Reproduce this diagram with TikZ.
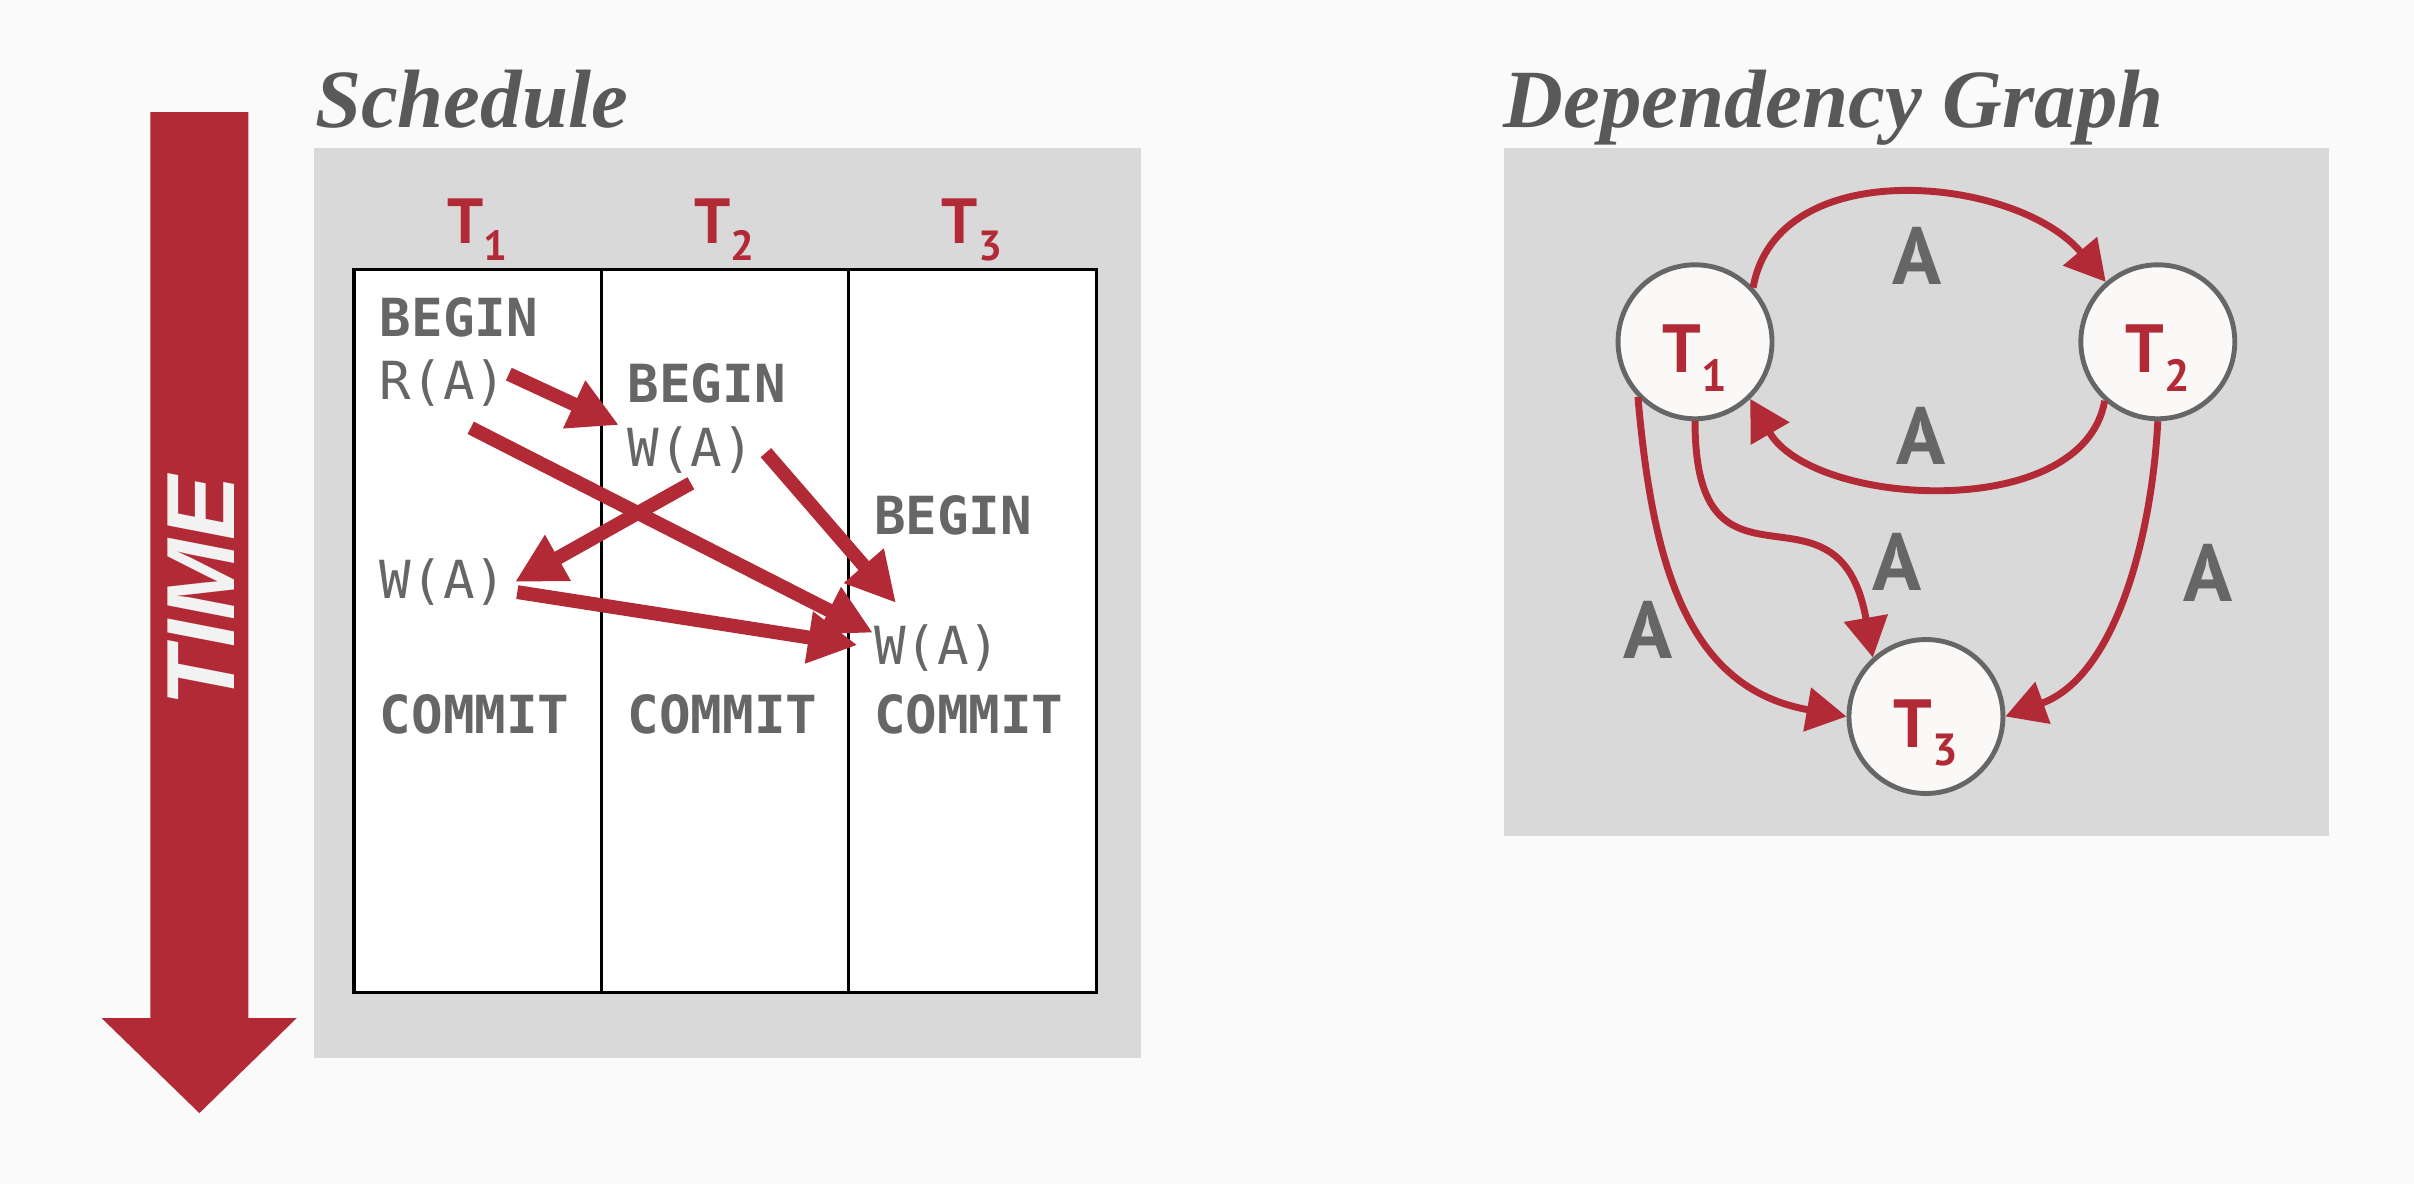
\documentclass[tikz,border=0pt]{standalone}
\usepackage{fontspec}
\usepackage{graphicx}
\setmainfont{Liberation Serif}
\newfontfamily\codefont{DejaVu Sans Mono}
\newfontfamily\labelfont{PT Sans}
\newfontfamily\timefont{Liberation Sans}
\usetikzlibrary{arrows.meta}

\definecolor{dbred}{RGB}{178,42,54}
\definecolor{dbgray}{RGB}{102,102,102}
\definecolor{titlegray}{RGB}{89,89,89}
\definecolor{boxgray}{RGB}{217,217,217}
\definecolor{nodefill}{RGB}{250,249,247}
\definecolor{pagebg}{RGB}{250,250,250}

\newcommand{\tsub}[1]{T\raisebox{-0.27em}{\scalebox{0.66}{#1}}}

\tikzset{
  op/.style={anchor=west, inner sep=0pt, text=dbgray, font=\codefont\fontsize{9.7}{10}\selectfont},
  kw/.style={op, font=\codefont\bfseries\fontsize{9.7}{10}\selectfont},
  title/.style={anchor=base west, inner sep=0pt, text=titlegray, font=\bfseries\itshape\fontsize{15.3}{16}\selectfont},
  txhead/.style={anchor=base, inner sep=0pt, text=dbred, font=\labelfont\bfseries\fontsize{11.8}{12}\selectfont},
  txnode/.style={circle, draw=dbgray, line width=0.9pt, fill=nodefill, minimum size=10mm, inner sep=0pt,
    text=dbred, font=\labelfont\bfseries\fontsize{12.6}{13}\selectfont, text height=11.4pt, text depth=0pt},
  elabel/.style={inner sep=0pt, text=dbgray, font=\labelfont\bfseries\fontsize{15}{15}\selectfont},
  sched/.style={draw=dbred, line width=0.9mm, -{Triangle[length=3.2mm,width=3.2mm]}},
  dep/.style={draw=dbred, line width=0.45mm, -{Triangle[length=2.6mm,width=2.8mm]}}
}

\begin{document}
\begin{tikzpicture}[x=0.1mm,y=0.1mm]
    \fill[pagebg] (0,0) rectangle (1568,769);
    \useasboundingbox (0,0) rectangle (1568,769);
    % time arrow
    \fill[dbred] (97.7,696.2) -- (161.3,696.2) -- (161.3,107.7) -- (192.7,107.7) -- (129.5,46) -- (66,107.7) -- (97.7,107.7) -- cycle;
    \node[rotate=90, inner sep=0pt, text={rgb,255:red,242;green,242;blue,242}, font=\timefont\bfseries\itshape\fontsize{17.9}{18}\selectfont] (time) at (130.5,385) {TIME};
    % schedule
    \node[title] (sched) at (204,686) {Schedule};
    \fill[boxgray] (204,82) rectangle (741,673);
    \draw[fill=white, line width=0.6pt] (230,124.5) rectangle (712,594);
    \foreach \x in {390.7,551.3}
    \draw[line width=0.6pt] (\x,124.5) -- (\x,594);
    \foreach \i/\x in {1/310.3,2/470.7,3/631.3}
    \node[txhead] (h\i) at (\x,611) {\tsub{\i}};
    \node[kw] (b1) at (246,563) {BEGIN};
    \node[op] (ra) at (246,520) {R(A)};
    \node[kw] (b2) at (407,520) {BEGIN};
    \node[op] (wb) at (407,477) {W(A)};
    \node[kw] (b3) at (567,434) {BEGIN};
    \node[op] (wa) at (246,391) {W(A)};
    \node[op] (wc) at (567,348) {W(A)};
    \foreach \x/\n in {246/c1,407/c2,567/c3}
    \node[kw] (\n) at (\x,305) {COMMIT};
    \draw[sched] ([shift={(1,6)}]ra.east) -- ([xshift=-0.5mm]wb.north west);
    \draw[sched] ([shift={(18,-13)}]ra.south) -- ([yshift=1mm]wc.west);
    \draw[sched] ([yshift=-0.6mm]wb.south) -- ([xshift=0.5mm]wa.east);
    \draw[sched] ([shift={(7,-2)}]wb.east) -- ([shift={(15,13.5)}]wc.north west);
    \draw[sched] ([shift={(6.5,-6.6)}]wa.east) -- ([shift={(-10,2)}]wc.west);
    % dependency graph
    \node[title] (depg) at (976,686) {Dependency Graph};
    \fill[boxgray] (977,226) rectangle (1513,673);
    \node[txnode] (g1) at (1101,547) {\tsub{1}};
    \node[txnode] (g2) at (1401.6,547) {\tsub{2}};
    \node[txnode] (g3) at (1251,303.6) {\tsub{3}};
    \draw[dep] (g1.43) to[out=80,in=130] (g2.131);
    \draw[dep] (g2.-132) to[out=-100,in=-60,looseness=0.9] (g1.-46);
    \draw[dep] (g1.south) to[out=-90,in=100,looseness=1.7] (g3.132);
    \draw[dep] (g1.-136) to[out=-85,in=170,looseness=1.1] (g3.west);
    \draw[dep] (g2.south) to[out=-93,in=20,looseness=0.9] (g3.east);
    \node[elabel] (a12) at (1245.5,603) {A};
    \node[elabel] (a21) at (1248,485.6) {A};
    \node[elabel] (a13) at (1232,404) {A};
    \node[elabel] (a23) at (1434,397) {A};
    \node[elabel] (a13o) at (1070.5,360) {A};
\end{tikzpicture}
\end{document}
